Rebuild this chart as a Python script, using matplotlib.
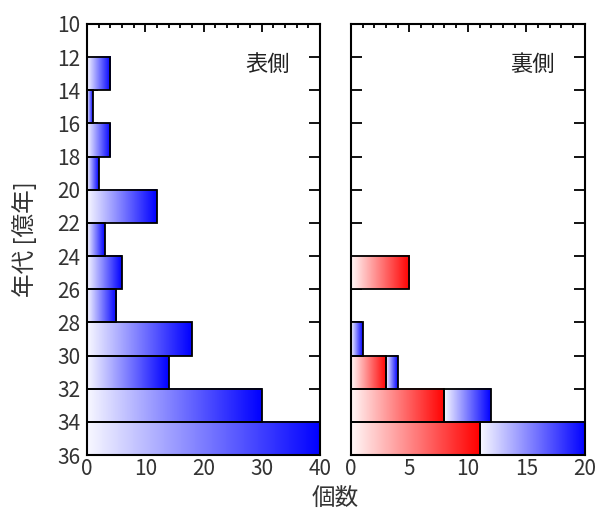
import numpy as np
import matplotlib
matplotlib.use("Agg")
import matplotlib.pyplot as plt
from matplotlib.colors import LinearSegmentedColormap
from matplotlib.ticker import MultipleLocator

plt.rcParams['font.family'] = ['Noto Sans CJK JP', 'DejaVu Sans']

# bins (age, 100 million years): lower edges, each 2 wide
bin_lo = [12, 14, 16, 18, 20, 22, 24, 26, 28, 30, 32, 34]
bin_w = 2
# near side counts (blue)
near_counts = [4, 1, 4, 2, 12, 3, 6, 5, 18, 14, 30, 40]
# far side counts: red part and blue part (stacked)
far_red = [0, 0, 0, 0, 0, 0, 5, 0, 0, 3, 8, 11]
far_blue = [0, 0, 0, 0, 0, 0, 0, 0, 1, 1, 4, 9]

yticks = list(range(10, 37, 2))
left_xlim = (0, 40)
right_xlim = (0, 20)

blue_cmap = LinearSegmentedColormap.from_list('b', ['#f8f8ff', '#0000ff'])
red_cmap = LinearSegmentedColormap.from_list('r', ['#fff8f8', '#ff0000'])
grad = np.linspace(0, 1, 256).reshape(1, -1)

fig = plt.figure(figsize=(6.01, 5.15), dpi=100)
axL = fig.add_axes([0.1448, 0.1165, 0.3877, 0.837])
axR = fig.add_axes([0.584, 0.1165, 0.389, 0.837])


def gbar(ax, x0, x1, y0, h, cmap):
    if x1 <= x0:
        return
    ax.imshow(grad, cmap=cmap, extent=[x0, x1, y0 + h, y0], aspect='auto',
              interpolation='bilinear', zorder=2)
    ax.add_patch(plt.Rectangle((x0, y0), x1 - x0, h, fill=False,
                               edgecolor='black', linewidth=1.3, zorder=3))


for y, v in zip(bin_lo, near_counts):
    gbar(axL, 0, v, y, bin_w, blue_cmap)

for y, r, b in zip(bin_lo, far_red, far_blue):
    gbar(axR, 0, r, y, bin_w, red_cmap)
    gbar(axR, r, r + b, y, bin_w, blue_cmap)

for ax, xl, maj, mn in [(axL, left_xlim, 10, 2), (axR, right_xlim, 5, 1)]:
    ax.set_xlim(*xl)
    ax.set_ylim(36, 10)
    ax.set_yticks(yticks)
    ax.xaxis.set_major_locator(MultipleLocator(maj))
    ax.xaxis.set_minor_locator(MultipleLocator(mn))
    ax.tick_params(axis='both', which='both', direction='in', top=True,
                   right=True, width=1.3, labelsize=15, colors='black')
    ax.tick_params(axis='x', which='major', length=6, pad=2)
    ax.tick_params(axis='x', which='minor', length=3)
    ax.tick_params(axis='y', which='major', length=8, pad=5)
    for s in ax.spines.values():
        s.set_linewidth(1.5)
        s.set_zorder(4)
    for lab in ax.get_xticklabels() + ax.get_yticklabels():
        lab.set_color('#333333')

axR.set_yticklabels([])
axL.text(0.87, 0.905, '表側', transform=axL.transAxes, ha='right', va='center',
         fontsize=16, color='#222222')
axR.text(0.87, 0.905, '裏側', transform=axR.transAxes, ha='right', va='center',
         fontsize=16, color='#222222')
axL.set_ylabel('年代 [億年]', fontsize=17, color='#333333', labelpad=14)
fig.text(0.557, 0.033, '個数', ha='center', va='center', fontsize=17,
         color='#333333')

fig.savefig('out.png', dpi=100)
